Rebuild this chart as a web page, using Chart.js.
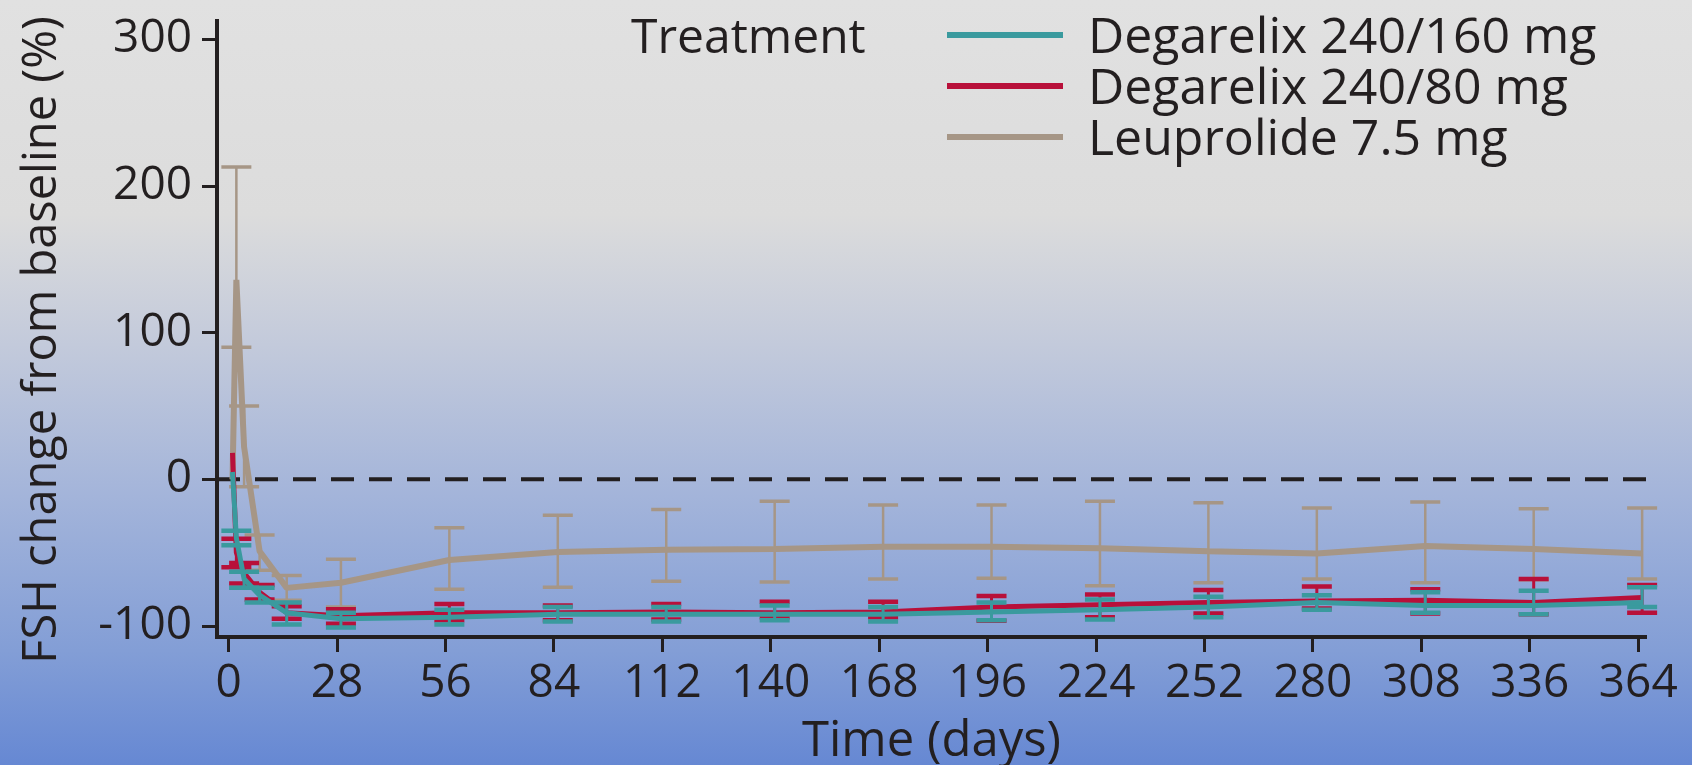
<!DOCTYPE html>
<html>
<head>
<meta charset="utf-8">
<script src="https://cdn.jsdelivr.net/npm/chart.js@4.4.1/dist/chart.umd.min.js"></script>
<style>
  html, body { margin: 0; padding: 0; }
  body {
    width: 1692px; height: 765px; overflow: hidden;
    background: linear-gradient(to bottom, #e1e1e1 0%, #dcdcdc 28%, #c3cadb 45%, #a3b4da 65%, #839ed6 85%, #6688d3 100%);
    font-family: 'Open Sans', sans-serif;
    color: #231f20;
  }
  .chart-wrap { position: relative; width: 1692px; height: 765px; }
  canvas { display: block; }
  #legend {
    position: absolute; left: 631px; top: 9px;
    display: flex; font-size: 48px; line-height: 51px;
  }
  #legend .ltitle { width: 316px; }
  #legend .row { display: flex; align-items: center; height: 51px; font-size: 50px; }
  #legend .swatch { width: 116px; height: 6px; margin-right: 25px; }
</style>
</head>
<body>
<div class="chart-wrap">
  <canvas id="fshChart" width="1692" height="765"></canvas>
  <div id="legend"><div class="ltitle">Treatment</div><div id="legendItems"></div></div>
</div>
<script>
  // visit days as plotted (study day + 1)
  const visitDays = [1, 2, 4, 8, 15, 29, 57, 85, 113, 141, 169, 197, 225, 253, 281, 309, 337, 365];
  const xTicks = [0, 28, 56, 84, 112, 140, 168, 196, 224, 252, 280, 308, 336, 364];
  const yTicks = [-100, 0, 100, 200, 300];

  // Degarelix 240/160 mg
  const dg160 = [5, -40, -68, -79, -91, -95, -94, -92, -92, -92, -92, -90.5, -89, -87, -84, -86, -86, -84];
  const dg160Low = [null, -45, -74, -84, -99, -101, -99, -97, -97, -96, -97, -96, -95.5, -94, -89, -91, -92, -87];
  const dg160High = [null, -35, -63, -74, -84, -91, -89, -87, -87, -86, -87, -84, -82, -80, -79, -77, -76, -73.5];

  // Degarelix 240/80 mg
  const dg80 = [18, -50, -64, -77, -91, -93, -91, -91, -90.5, -91, -90.5, -87, -85.5, -84, -83, -82.5, -84, -80.5];
  const dg80Low = [null, -60, -71, -82, -95, -98.5, -96, -96, -95.5, -94, -94, -96.5, -94, -91.5, -88, -91.5, -92, -91];
  const dg80High = [null, -40.5, -57, -72, -86.5, -88.5, -85, -86, -85, -83.5, -83.5, -79.5, -78.5, -75.5, -73, -75, -68, -72];

  // Leuprolide 7.5 mg
  const leu = [0, 136, 22, -49, -74, -70.5, -55, -49.5, -48, -47.5, -46, -46, -47, -49, -50.5, -45.5, -47.5, -50.5];
  const leuLow = [null, 90, -5, -62, -82.5, -87, -75, -73.5, -69.5, -70, -68, -67.5, -72.5, -70.5, -68, -70.5, -68.5, -68];
  const leuHigh = [null, 213, 50, -38, -65.5, -54.5, -33, -24.5, -20.5, -15, -17.5, -17.5, -15, -16, -19.5, -15.5, -20, -19.5];

  const ink = '#231f20';
  const toPoints = vals => visitDays.map((d, i) => ({ x: d, y: vals[i] }));

  // zero reference line
  const zeroLine = {
    id: 'zeroLine',
    beforeDatasetsDraw(chart) {
      const { ctx, chartArea, scales } = chart;
      const y = scales.y.getPixelForValue(0);
      ctx.save();
      ctx.strokeStyle = ink;
      ctx.lineWidth = 4;
      ctx.setLineDash([23, 15]);
      ctx.beginPath();
      ctx.moveTo(chartArea.left, y);
      ctx.lineTo(chartArea.right, y);
      ctx.stroke();
      ctx.restore();
    }
  };

  // error bars under each dataset's own line
  const errorBars = {
    id: 'errorBars',
    beforeDatasetDraw(chart, args) {
      const ds = chart.data.datasets[args.index];
      if (!ds.errLow) return;
      const { ctx, scales } = chart;
      ctx.save();
      ctx.strokeStyle = ds.borderColor;
      ds.data.forEach((p, i) => {
        if (ds.errLow[i] == null) return;
        const x = scales.x.getPixelForValue(p.x);
        const y1 = scales.y.getPixelForValue(ds.errLow[i]);
        const y2 = scales.y.getPixelForValue(ds.errHigh[i]);
        ctx.lineWidth = ds.whiskerWidth;
        ctx.beginPath();
        ctx.moveTo(x, y1);
        ctx.lineTo(x, y2);
        ctx.stroke();
        ctx.lineWidth = ds.capWidth;
        ctx.beginPath();
        ctx.moveTo(x - 15, y1); ctx.lineTo(x + 15, y1);
        ctx.moveTo(x - 15, y2); ctx.lineTo(x + 15, y2);
        ctx.stroke();
      });
      ctx.restore();
    }
  };

  // axis titles
  const axisTitles = {
    id: 'axisTitles',
    afterDraw(chart) {
      const { ctx, chartArea } = chart;
      ctx.save();
      ctx.fillStyle = ink;
      ctx.textAlign = 'center';
      ctx.textBaseline = 'middle';
      ctx.font = '49px "Open Sans"';
      ctx.fillText('Time (days)', (chartArea.left + chartArea.right) / 2, 742);
      ctx.font = '47px "Open Sans"';
      ctx.translate(43, 340);
      ctx.rotate(-Math.PI / 2);
      ctx.fillText('FSH change from baseline (%)', 0, 0);
      ctx.restore();
    }
  };

  const ctx = document.getElementById('fshChart').getContext('2d');
  const fshChart = new Chart(ctx, {
    type: 'line',
    data: {
      datasets: [{
        label: 'Degarelix 240/160 mg',
        data: toPoints(dg160),
        errLow: dg160Low,
        errHigh: dg160High,
        borderColor: '#3a9a9e',
        borderWidth: 5,
        whiskerWidth: 3,
        capWidth: 4.5
      }, {
        label: 'Degarelix 240/80 mg',
        data: toPoints(dg80),
        errLow: dg80Low,
        errHigh: dg80High,
        borderColor: '#b8103a',
        borderWidth: 5,
        whiskerWidth: 3,
        capWidth: 4.5
      }, {
        label: 'Leuprolide 7.5 mg',
        data: toPoints(leu),
        errLow: leuLow,
        errHigh: leuHigh,
        borderColor: '#a69686',
        borderWidth: 6,
        whiskerWidth: 2.5,
        capWidth: 3.5
      }]
    },
    options: {
      responsive: false,
      animation: false,
      devicePixelRatio: 1,
      layout: { padding: { top: 21, right: 46, left: 0, bottom: 0 } },
      elements: {
        point: { radius: 0 },
        line: { tension: 0, borderJoinStyle: 'bevel', fill: false }
      },
      plugins: { legend: { display: false }, tooltip: { enabled: false } },
      scales: {
        x: {
          type: 'linear',
          min: -3,
          max: 366,
          afterBuildTicks: scale => { scale.ticks = xTicks.map(v => ({ value: v })); },
          afterFit: scale => { scale.height = 128; scale.paddingLeft = 0; scale.paddingRight = 0; },
          grid: { drawOnChartArea: false, drawTicks: true, tickLength: 15, tickWidth: 3, tickColor: ink },
          border: { display: true, color: ink, width: 4 },
          ticks: { color: ink, font: { family: 'Open Sans', size: 46 }, padding: 4, maxRotation: 0, autoSkip: false }
        },
        y: {
          min: -107.5,
          max: 312.5,
          afterBuildTicks: scale => { scale.ticks = yTicks.map(v => ({ value: v })); },
          afterFit: scale => { scale.width = 217; scale.paddingTop = 0; scale.paddingBottom = 0; },
          grid: { drawOnChartArea: false, drawTicks: true, tickLength: 15, tickWidth: 3, tickColor: ink },
          border: { display: true, color: ink, width: 4 },
          ticks: { color: ink, font: { family: 'Open Sans', size: 46 }, padding: 10 }
        }
      }
    },
    plugins: [zeroLine, errorBars, axisTitles]
  });

  // html legend from the chart's datasets
  const legendItems = document.getElementById('legendItems');
  fshChart.data.datasets.forEach(ds => {
    const row = document.createElement('div');
    row.className = 'row';
    const sw = document.createElement('span');
    sw.className = 'swatch';
    sw.style.background = ds.borderColor;
    const txt = document.createElement('span');
    txt.textContent = ds.label;
    row.appendChild(sw);
    row.appendChild(txt);
    legendItems.appendChild(row);
  });
</script>
</body>
</html>
